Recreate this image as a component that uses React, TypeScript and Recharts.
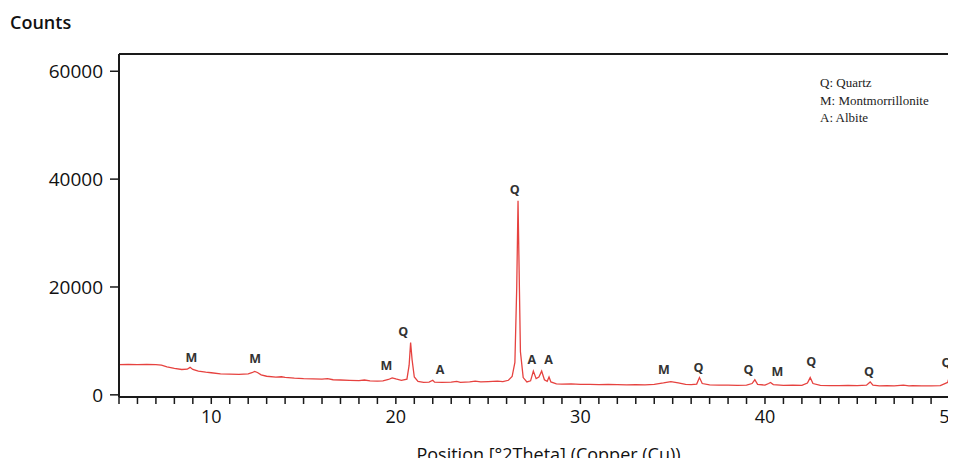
import { ComposedChart, Line, Scatter, XAxis, YAxis, ReferenceLine } from "recharts";

// 2-theta positions (degrees) and measured counts
const position = [
  5.0, 5.5, 6.0, 6.5, 7.0, 7.3, 7.6, 8.0, 8.4, 8.7, 8.85, 9.0, 9.3, 9.7, 10.0, 10.5, 11.0, 11.5, 12.0, 12.2,
  12.35, 12.5, 12.7, 13.0, 13.5, 13.8, 14.0, 14.5, 15.0, 15.5, 16.0, 16.3, 16.6, 17.0, 17.5, 18.0, 18.3, 18.6,
  19.0, 19.3, 19.6, 19.8, 20.0, 20.3, 20.6, 20.72, 20.8, 20.88, 21.0, 21.2, 21.5, 21.8, 22.0, 22.1, 22.5, 23.0,
  23.3, 23.5, 24.0, 24.3, 24.6, 25.0, 25.5, 25.8, 26.1, 26.3, 26.45, 26.55, 26.62, 26.68, 26.75, 26.9, 27.1,
  27.3, 27.45, 27.6, 27.75, 27.9, 28.05, 28.2, 28.3, 28.4, 28.7, 29.0, 29.5, 30.0, 30.5, 31.0, 31.5, 32.0, 32.5,
  33.0, 33.5, 34.0, 34.5, 34.9, 35.3, 35.7, 36.0, 36.3, 36.45, 36.6, 37.0, 37.5, 38.0, 38.5, 39.0, 39.3, 39.45,
  39.6, 40.0, 40.2, 40.3, 40.45, 41.0, 41.5, 42.0, 42.3, 42.45, 42.6, 43.0, 43.5, 44.0, 44.5, 45.0, 45.5, 45.7,
  45.85, 46.2, 46.6, 47.0, 47.5, 47.8, 48.0, 48.5, 49.0, 49.5, 49.9, 50.05, 50.2, 50.5, 51.0,
];
const counts = [
  5600, 5650, 5600, 5650, 5600, 5500, 5200, 4900, 4700, 4750, 5100, 4700, 4400, 4200, 4100, 3900, 3850, 3800, 3900, 4100,
  4350, 4150, 3700, 3450, 3300, 3350, 3250, 3100, 3000, 2950, 2900, 3000, 2800, 2750, 2700, 2650, 2750, 2600,
  2550, 2600, 2850, 3150, 2950, 2700, 2900, 5500, 9700, 6500, 3300, 2500, 2300, 2350, 2700, 2350, 2300, 2350,
  2500, 2300, 2400, 2550, 2400, 2450, 2550, 2450, 2700, 3400, 6000, 20000, 36000, 23000, 8000, 3200, 2400,
  2600, 4400, 3000, 3300, 4400, 2800, 2500, 3300, 2400, 2050, 2000, 2050, 1950, 1950, 1900, 1950, 1900, 1850,
  1900, 1850, 1950, 2200, 2450, 2200, 1950, 1900, 2000, 3200, 2100, 1850, 1800, 1800, 1750, 1800, 2100, 2800,
  1950, 1800, 2100, 2300, 1900, 1750, 1800, 1750, 2200, 3200, 2100, 1750, 1700, 1700, 1750, 1700, 1800, 2400,
  1800, 1650, 1700, 1650, 1800, 1650, 1700, 1650, 1650, 1700, 2300, 4100, 3000, 2000, 1800,
];

// phase labels above the peaks
const peakLetter = ["M", "M", "M", "Q", "A", "Q", "A", "A", "M", "Q", "Q", "M", "Q", "Q", "Q"];
const peakPos = [8.92, 12.37, 19.49, 20.4, 22.4, 26.44, 27.36, 28.27, 34.53, 36.4, 39.1, 40.67, 42.5, 45.63, 49.84];
const peakLabelY = [6870, 6690, 5390, 11700, 4640, 38070, 6500, 6500, 4640, 5000, 4640, 4270, 6130, 4270, 5940];

const xTicks = Array.from({ length: 47 }, (_, i) => i + 5);
const yTicks = [0, 20000, 40000, 60000];
const legendItems = ["Q: Quartz", "M: Montmorrillonite", "A: Albite"];

const trace = position.map((pos, i) => ({ pos, counts: counts[i] }));
const peaks = peakPos.map((pos, i) => ({ pos, val: peakLabelY[i], letter: peakLetter[i] }));

const FONT = "'Open Sans', sans-serif";
const AXIS = "#1a1a1a";

const PeakLabel = (props: any) => (
  <text
    x={props.cx}
    y={props.cy}
    textAnchor="middle"
    dominantBaseline="central"
    fontSize={12.5}
    fontWeight={700}
    fontFamily={FONT}
    fill="#333"
  >
    {props.payload.letter}
  </text>
);

export default function App() {
  return (
    <div style={{ position: "relative", width: 948, height: 458, marginBottom: -8, overflow: "hidden" }}>
      <div
        style={{
          position: "absolute",
          left: 2,
          top: 2,
          fontFamily: FONT,
          fontSize: 18,
          fontWeight: 600,
          color: "#111",
        }}
      >
        Counts
      </div>
      <div
        style={{
          position: "absolute",
          left: 812,
          top: 66,
          fontFamily: "'Liberation Serif', serif",
          fontSize: 13,
          lineHeight: "17.5px",
          color: "#222",
          zIndex: 2,
        }}
      >
        {legendItems.map((t) => (
          <div key={t}>{t}</div>
        ))}
      </div>
      <ComposedChart width={1000} height={458} data={trace} margin={{ top: 46, right: 40, left: 0, bottom: 0 }}>
        <XAxis
          type="number"
          dataKey="pos"
          domain={[5, 51]}
          allowDataOverflow
          ticks={xTicks}
          interval={0}
          tickFormatter={(v: number) => (v % 10 === 0 ? String(v) : "")}
          tickSize={7}
          tickMargin={6}
          tick={{ fontSize: 18, fill: "#111", fontFamily: FONT, fontWeight: 500 }}
          tickLine={{ stroke: AXIS, strokeWidth: 1.5 }}
          axisLine={{ stroke: AXIS, strokeWidth: 2 }}
          height={69}
          label={{
            value: "Position [°2Theta] (Copper (Cu))",
            position: "insideBottom",
            offset: 5,
            dx: 5,
            style: { fontSize: 18, fill: "#111", fontFamily: FONT, fontWeight: 500 },
          }}
        />
        <YAxis
          type="number"
          domain={[-400, 63200]}
          allowDataOverflow
          ticks={yTicks}
          interval={0}
          width={111}
          tickSize={9}
          tickMargin={7}
          tick={{ fontSize: 19, fill: "#111", fontFamily: FONT, fontWeight: 500 }}
          tickLine={{ stroke: AXIS, strokeWidth: 1.5 }}
          axisLine={{ stroke: AXIS, strokeWidth: 2 }}
        />
        <ReferenceLine y={63200} stroke={AXIS} strokeWidth={2} />
        <Line
          type="linear"
          dataKey="counts"
          stroke="#e6423f"
          strokeWidth={1.3}
          dot={false}
          isAnimationActive={false}
        />
        <Scatter data={peaks} dataKey="val" shape={PeakLabel} isAnimationActive={false} />
      </ComposedChart>
    </div>
  );
}
